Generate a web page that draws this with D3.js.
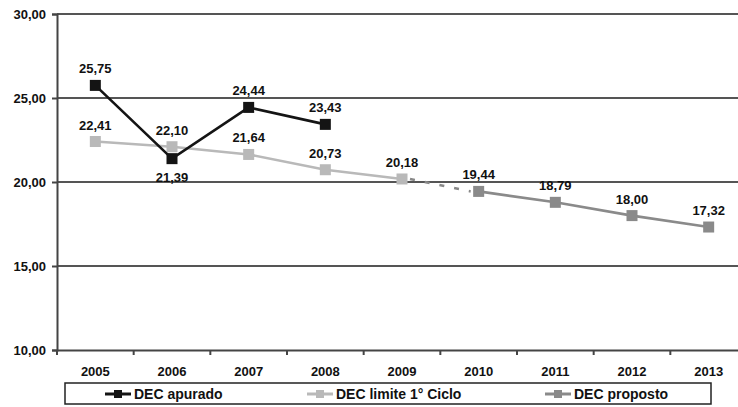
<!DOCTYPE html>
<meta charset="utf-8">
<script src="https://d3js.org/d3.v7.min.js"></script>
<style>
  body { margin: 0; background: #fff; }
  svg { display: block; overflow: hidden; }
  text { font-family: "Liberation Sans", Arial, sans-serif; font-weight: bold; fill: #111; }
</style>
<div id="my_dataviz"></div>
<script>
// data
var years = ["2005", "2006", "2007", "2008", "2009", "2010", "2011", "2012", "2013"];
var yTicks = [10, 15, 20, 25, 30];

var apuradoYears = ["2005", "2006", "2007", "2008"];
var apuradoValues = [25.75, 21.39, 24.44, 23.43];

var limiteYears = ["2005", "2006", "2007", "2008", "2009"];
var limiteValues = [22.41, 22.10, 21.64, 20.73, 20.18];

var propostoYears = ["2010", "2011", "2012", "2013"];
var propostoValues = [19.44, 18.79, 18.00, 17.32];

var seriesNames = ["DEC apurado", "DEC limite 1° Ciclo", "DEC proposto"];

// dimensions (plot box runs past the right edge, as in the original)
var W = 738, H = 407;
var margin = {left: 57, right: 747, top: 14, bottom: 350};

var svg = d3.select("#my_dataviz")
  .append("svg")
    .attr("width", W)
    .attr("height", H);

var x = d3.scaleBand().domain(years).range([margin.left, margin.right]);
var y = d3.scaleLinear().domain([10, 30]).range([margin.bottom, margin.top]);
var fmt = function(v) { return d3.format(".2f")(v).replace(".", ","); };

// gridlines
svg.append("g")
  .selectAll("line")
  .data(yTicks.filter(function(d) { return d > 10; }))
  .join("line")
    .attr("x1", margin.left).attr("x2", W)
    .attr("y1", function(d) { return y(d); })
    .attr("y2", function(d) { return y(d); })
    .attr("stroke", "#555")
    .attr("stroke-width", 1.8);

// y axis
var yAxis = svg.append("g")
  .attr("transform", "translate(" + margin.left + ",0)")
  .call(d3.axisLeft(y).tickValues(yTicks).tickSize(5).tickPadding(6).tickFormat(fmt));
yAxis.select(".domain").attr("stroke", "#444").attr("stroke-width", 2);
yAxis.selectAll(".tick line").attr("stroke", "#444").attr("stroke-width", 2);
yAxis.selectAll(".tick text").style("font-size", "13px").style("font-family", "Liberation Sans, Arial, sans-serif");

// x axis
var xAxis = svg.append("g")
  .attr("transform", "translate(0," + margin.bottom + ")")
  .call(d3.axisBottom(x).tickSize(0).tickPadding(17));
xAxis.select(".domain").attr("stroke", "#444").attr("stroke-width", 2);
xAxis.selectAll(".tick text").style("font-size", "13px").style("font-family", "Liberation Sans, Arial, sans-serif");
// tick marks at category boundaries
svg.append("g")
  .selectAll("line")
  .data(years)
  .join("line")
    .attr("x1", function(d) { return x(d); })
    .attr("x2", function(d) { return x(d); })
    .attr("y1", margin.bottom)
    .attr("y2", margin.bottom + 5)
    .attr("stroke", "#444")
    .attr("stroke-width", 2);

function cx(d) { return x(d) + x.bandwidth() / 2; }

// dashed connector between 2009 and 2010
svg.append("line")
  .attr("x1", cx("2009") + 8).attr("y1", y(limiteValues[4]))
  .attr("x2", cx("2010") - 8).attr("y2", y(propostoValues[0]))
  .attr("stroke", "#888")
  .attr("stroke-width", 2.5)
  .attr("stroke-dasharray", "5,10");

function drawSeries(yrs, vals, color, labelBelow) {
  var pts = yrs.map(function(d, i) { return {year: d, value: vals[i], i: i}; });
  svg.append("path")
    .datum(pts)
    .attr("fill", "none")
    .attr("stroke", color)
    .attr("stroke-width", 2.6)
    .attr("d", d3.line()
      .x(function(d) { return cx(d.year); })
      .y(function(d) { return y(d.value); }));
  svg.append("g")
    .selectAll("rect")
    .data(pts)
    .join("rect")
      .attr("x", function(d) { return cx(d.year) - 5.5; })
      .attr("y", function(d) { return y(d.value) - 5.5; })
      .attr("width", 11)
      .attr("height", 11)
      .attr("fill", color);
  svg.append("g")
    .selectAll("text")
    .data(pts)
    .join("text")
      .attr("x", function(d) { return cx(d.year); })
      .attr("y", function(d) { return labelBelow(d) ? y(d.value) + 23 : y(d.value) - 12; })
      .attr("text-anchor", "middle")
      .style("font-size", "13px")
      .text(function(d) { return fmt(d.value); });
}

drawSeries(limiteYears, limiteValues, "#b9b9b9", function() { return false; });
drawSeries(propostoYears, propostoValues, "#8a8a8a", function() { return false; });
drawSeries(apuradoYears, apuradoValues, "#141414", function(d) { return d.year === "2006"; });

// legend
var legend = svg.append("g");
legend.append("rect")
  .attr("x", 65).attr("y", 383)
  .attr("width", 646).attr("height", 21)
  .attr("fill", "#fff")
  .attr("stroke", "#222")
  .attr("stroke-width", 1.5);

var legendColors = ["#141414", "#b9b9b9", "#8a8a8a"];
var legendX = [105, 307, 545];
seriesNames.forEach(function(name, i) {
  var g = legend.append("g").attr("transform", "translate(" + legendX[i] + ",394)");
  g.append("line").attr("x1", 0).attr("x2", 26)
    .attr("stroke", legendColors[i]).attr("stroke-width", 3);
  g.append("rect").attr("x", 9).attr("y", -4).attr("width", 8).attr("height", 8)
    .attr("fill", legendColors[i]);
  g.append("text").attr("x", 29).attr("y", 5)
    .style("font-size", "14px")
    .text(name);
});
</script>
